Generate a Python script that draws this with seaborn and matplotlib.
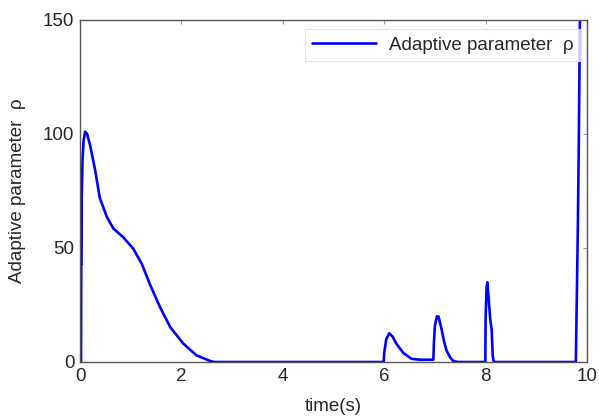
import matplotlib
matplotlib.use("Agg")
import matplotlib.pyplot as plt
import seaborn as sns
import pandas as pd

# time samples (s) and adaptive parameter rho values
time_s = [0.0, 0.02, 0.025, 0.03, 0.035, 0.05, 0.07, 0.10, 0.14, 0.20, 0.30, 0.39, 0.53, 0.66, 0.85,
          1.05, 1.22, 1.38, 1.58, 1.78, 2.04, 2.30, 2.56, 2.65,
          5.99, 6.00, 6.04, 6.10, 6.17, 6.24, 6.38, 6.54, 6.70, 6.97, 6.98, 7.00, 7.04, 7.07, 7.13,
          7.18, 7.23, 7.30, 7.36, 7.45,
          7.995, 8.00, 8.02, 8.035, 8.06, 8.09, 8.12, 8.14, 8.16,
          9.78, 9.80, 9.82, 9.84, 9.86, 9.90]
rho = [0.0, 0.0, 43.0, 43.0, 72.0, 89.0, 97.0, 101.0, 100.0, 95.0, 84.0, 72.0, 63.6, 58.5, 54.8,
       49.7, 43.0, 34.0, 24.0, 15.3, 8.0, 2.9, 0.5, 0.0,
       0.0, 4.0, 10.0, 12.6, 11.0, 8.0, 3.9, 1.4, 1.0, 1.0, 8.0, 16.0, 20.0, 20.0, 14.6,
       9.0, 5.0, 2.0, 0.5, 0.0,
       0.0, 19.0, 33.0, 35.0, 28.0, 19.0, 14.0, 3.0, 0.0,
       0.0, 30.0, 60.0, 100.0, 150.0, 400.0]

x_ticks = [0, 2, 4, 6, 8, 10]
y_ticks = [0, 50, 100, 150]
legend_label = "Adaptive parameter  ρ"
x_label = "time(s)"
y_label = "Adaptive parameter  ρ"

sns.set_style("white")
plt.rcParams['font.family'] = ['Liberation Sans', 'DejaVu Sans']

df = pd.DataFrame({"t": time_s, "rho": rho})

fig = plt.figure(figsize=(5.99, 4.19), dpi=100)
ax = fig.add_axes([80/599, 1-362/419, (587-80)/599, (362-20)/419])
sns.lineplot(data=df, x="t", y="rho", ax=ax, estimator=None, sort=False,
             color="#0000ff", linewidth=1.9, label=legend_label)

ax.set_xlim(0, 10)
ax.set_ylim(0, 150)
ax.set_xticks(x_ticks)
ax.set_yticks(y_ticks)
ax.tick_params(direction="in", length=3, top=True, right=True, labelsize=13.5,
               color="#999999", pad=4)
for s in ax.spines.values():
    s.set_color("#555555")
    s.set_linewidth(1.0)
ax.set_xlabel(x_label, fontsize=13.5, labelpad=10)
ax.set_ylabel(y_label, fontsize=13.5, labelpad=12)

leg = ax.legend(loc="upper right", fontsize=13.5, frameon=True, fancybox=False,
                handlelength=3.4, handletextpad=0.7, borderpad=0.4, borderaxespad=0.3,
                bbox_to_anchor=(1.0, 0.99))
leg.get_frame().set_edgecolor("#dddddd")
leg.get_frame().set_linewidth(0.8)

fig.savefig("out.png", dpi=100)
